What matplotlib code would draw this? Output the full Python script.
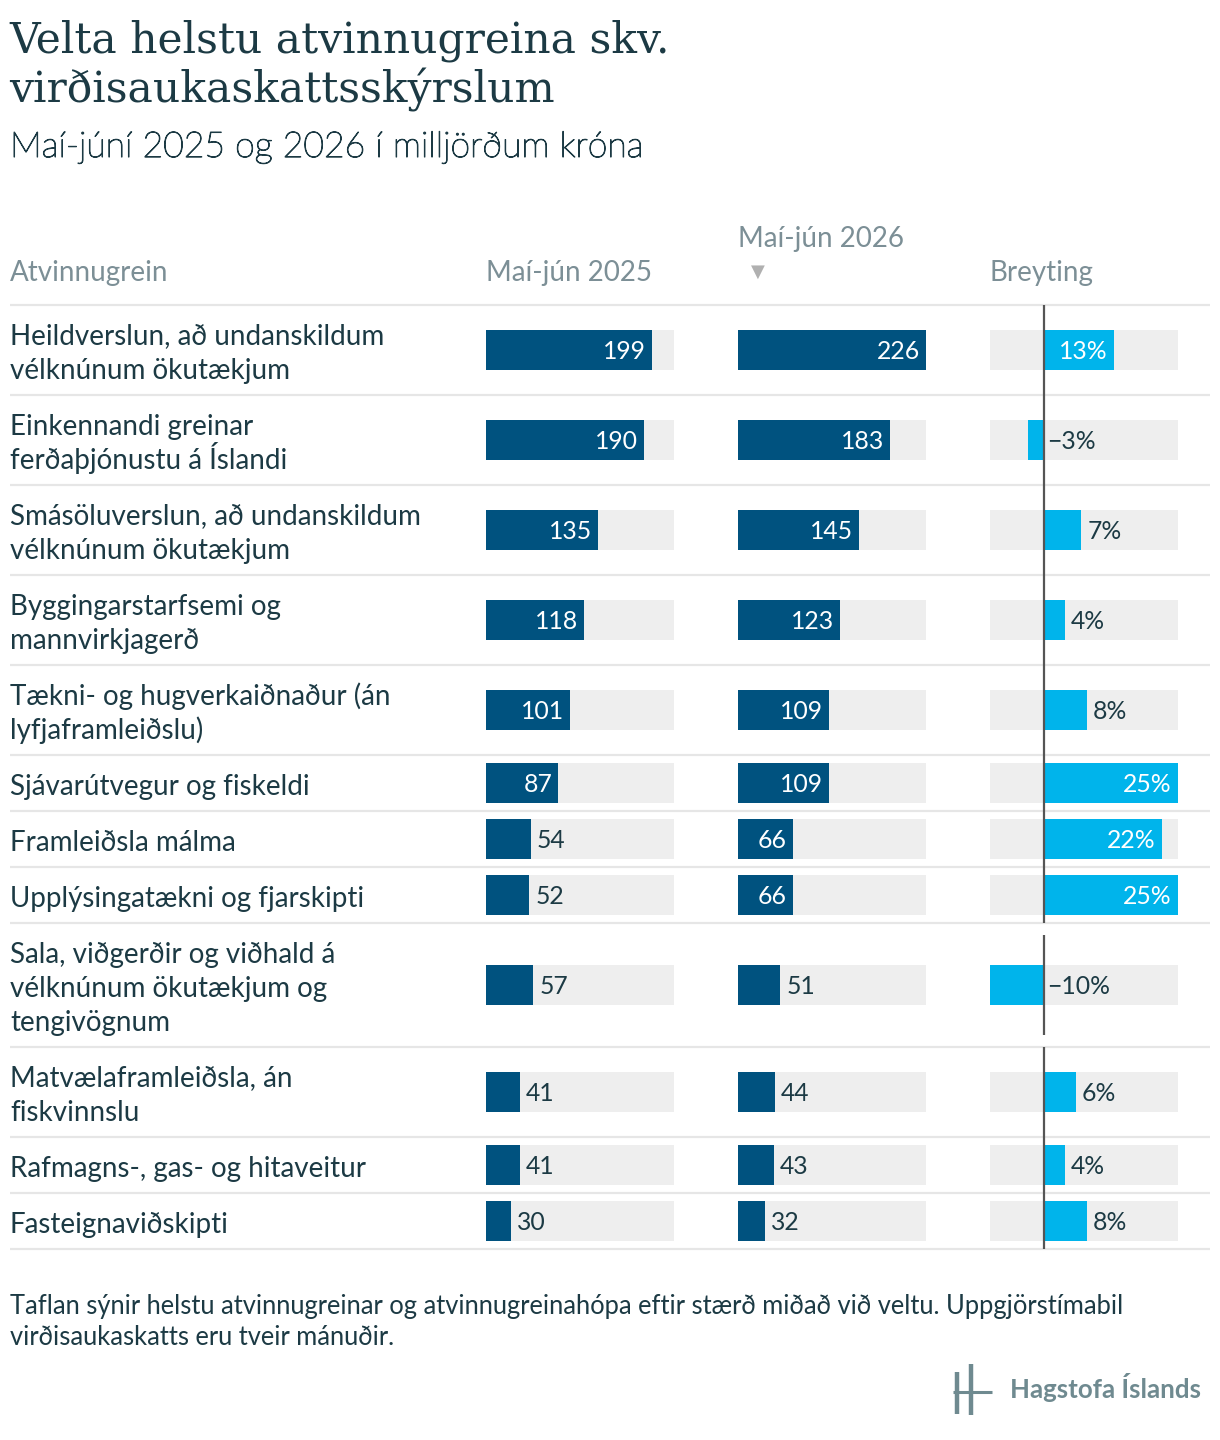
import matplotlib
matplotlib.use("Agg")
import matplotlib.pyplot as plt
import matplotlib.patheffects as pe
import numpy as np

# ---- data ----
categories = [
    "Heildverslun, að undanskildum\nvélknúnum ökutækjum",
    "Einkennandi greinar\nferðaþjónustu á Íslandi",
    "Smásöluverslun, að undanskildum\nvélknúnum ökutækjum",
    "Byggingarstarfsemi og\nmannvirkjagerð",
    "Tækni- og hugverkaiðnaður (án\nlyfjaframleiðslu)",
    "Sjávarútvegur og fiskeldi",
    "Framleiðsla málma",
    "Upplýsingatækni og fjarskipti",
    "Sala, viðgerðir og viðhald á\nvélknúnum ökutækjum og\ntengivögnum",
    "Matvælaframleiðsla, án\nfiskvinnslu",
    "Rafmagns-, gas- og hitaveitur",
    "Fasteignaviðskipti",
]
velta_2025 = [199, 190, 135, 118, 101, 87, 54, 52, 57, 41, 41, 30]
velta_2026 = [226, 183, 145, 123, 109, 109, 66, 66, 51, 44, 43, 32]
breyting = [13, -3, 7, 4, 8, 25, 22, 25, -10, 6, 4, 8]

title_lines = ["Velta helstu atvinnugreina skv.", "virðisaukaskattsskýrslum"]
subtitle = "Maí-júní 2025 og 2026 í milljörðum króna"
col_headers = ["Atvinnugrein", "Maí-jún 2025", "Maí-jún 2026", "Breyting"]
footnote_lines = [
    "Taflan sýnir helstu atvinnugreinar og atvinnugreinahópa eftir stærð miðað við veltu. Uppgjörstímabil",
    "virðisaukaskatts eru tveir mánuðir.",
]

# ---- style ----
DARK = "#00527f"
LIGHT = "#00b4eb"
BG = "#eeeeee"
SEP = "#e6e6e6"
TXT = "#1c3a44"
HEAD = "#7c8f96"
FONT = "Lato"

W, H = 1220, 1440
fig = plt.figure(figsize=(W / 100, H / 100), dpi=100)
base = fig.add_axes([0, 0, 1, 1])
base.set_xlim(0, W)
base.set_ylim(H, 0)
base.axis("off")

# row geometry from number of label lines
table_top = 305
nlines = np.array([c.count("\n") + 1 for c in categories])
row_h = 22 + 34 * nlines
row_edges = table_top + np.concatenate([[0], np.cumsum(row_h)])
row_mid = (row_edges[:-1] + row_edges[1:]) / 2
table_bot = row_edges[-1]

# titles
for i, ln in enumerate(title_lines):
    base.text(9, 53 + 49 * i, ln, family="DejaVu Serif", fontsize=30.5,
              color=TXT, va="baseline")
base.text(10, 157, subtitle, family=FONT, fontweight="light", fontsize=25.6,
          color=TXT, va="baseline",
          path_effects=[pe.withStroke(linewidth=0.8, foreground=TXT)])

# headers
hsize = 20
base.text(10, 281, col_headers[0], family=FONT, fontsize=hsize, color=HEAD, va="baseline")
base.text(486, 281, col_headers[1], family=FONT, fontsize=hsize, color=HEAD, va="baseline")
base.text(738, 247, col_headers[2], family=FONT, fontsize=hsize, color=HEAD, va="baseline")
base.text(758, 272, "▼", family="DejaVu Sans", fontsize=13, color="#b0b0b0",
          ha="center", va="center")
base.text(990, 281, col_headers[3], family=FONT, fontsize=hsize, color=HEAD, va="baseline")

# separators
for y in row_edges:
    base.plot([10, 1210], [y, y], color=SEP, lw=1.6, solid_capstyle="butt")

# category labels, one text per line
lsize = 20
for lab, top in zip(categories, row_edges[:-1]):
    for j, ln in enumerate(lab.split("\n")):
        base.text(10, top + 40 + 34 * j, ln, family=FONT, fontsize=lsize,
                  color=TXT, va="baseline")


def col_axes(x0, x1, lo, hi):
    a = fig.add_axes([x0 / W, 1 - table_bot / H, (x1 - x0) / W, (table_bot - table_top) / H])
    a.set_xlim(lo, hi)
    a.set_ylim(table_bot, table_top)
    a.axis("off")
    return a


vmax = max(max(velta_2025), max(velta_2026))
bar_h = 40
vsize = 17.8

for vals, x0 in [(velta_2025, 486), (velta_2026, 738)]:
    a = col_axes(x0, x0 + 188, 0, vmax)
    a.barh(row_mid, vmax, height=bar_h, color=BG, lw=0)
    a.barh(row_mid, vals, height=bar_h, color=DARK, lw=0)
    pad = vmax * 6 / 188
    for v, y in zip(vals, row_mid):
        if v >= 60:
            a.text(v - pad, y + 9, str(v), ha="right", va="baseline", family=FONT,
                   fontsize=vsize, color="white")
        else:
            a.text(v + pad, y + 9, str(v), ha="left", va="baseline", family=FONT,
                   fontsize=vsize, color=TXT)

# change column
lo, hi = min(breyting), max(breyting)
a = col_axes(990, 1178, lo, hi)
a.barh(row_mid, hi - lo, left=lo, height=bar_h, color=BG, lw=0)
a.barh(row_mid, breyting, height=bar_h, color=LIGHT, lw=0)
pad = (hi - lo) * 6 / 188
for v, y, rh in zip(breyting, row_mid, row_h):
    span = min(rh, 100) / 2
    a.vlines(0, y - span, y + span, color="#555555", lw=1.6)
    lab = f"{v}%" if v >= 0 else f"\u2212{-v}%"
    if v >= 10:
        a.text(v - pad, y + 9, lab, ha="right", va="baseline", family=FONT,
               fontsize=vsize, color="white")
    elif v >= 0:
        a.text(v + pad, y + 9, lab, ha="left", va="baseline", family=FONT,
               fontsize=vsize, color=TXT)
    else:
        a.text(pad * 0.6, y + 9, lab, ha="left", va="baseline", family=FONT,
               fontsize=vsize, color=TXT)

# footnote
for j, ln in enumerate(footnote_lines):
    base.text(10, 1314 + 31 * j, ln, family=FONT, fontsize=18.4, color=TXT,
              va="baseline")

# logo
lc = "#6f8a90"
base.plot([957, 957], [1372, 1414], color=lc, lw=3.2, solid_capstyle="butt")
base.plot([971, 971], [1364, 1415], color=lc, lw=3.2, solid_capstyle="butt")
base.plot([953, 992], [1392, 1392], color=lc, lw=2.2, solid_capstyle="butt")
base.text(1010, 1398, "Hagstofa Íslands", family=FONT, fontweight="bold",
          fontsize=18.6, color=lc, va="baseline")

fig.savefig("out.png", dpi=100)
